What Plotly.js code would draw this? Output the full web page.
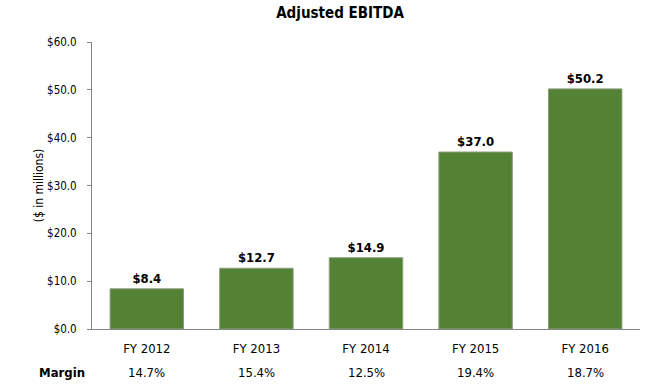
<!DOCTYPE html>
<html>
<head>
<meta charset="utf-8">
<script src="https://cdn.plot.ly/plotly-3.0.1.min.js"></script>
<style>html,body{margin:0;padding:0;background:#fff;}#chart{width:672px;height:386px;}</style>
</head>
<body>
<div id="chart"></div>
<script>
var categories = ["FY 2012", "FY 2013", "FY 2014", "FY 2015", "FY 2016"];
var ebitda = [8.4, 12.7, 14.9, 37.0, 50.2];
var valueLabels = ["$8.4", "$12.7", "$14.9", "$37.0", "$50.2"];
var margins = ["14.7%", "15.4%", "12.5%", "19.4%", "18.7%"];
var yTickVals = [0, 10, 20, 30, 40, 50, 60];
var yTickText = ["$0.0", "$10.0", "$20.0", "$30.0", "$40.0", "$50.0", "$60.0"];

var FONT = "'Liberation Sans Narrow', 'Arial Narrow', 'DejaVu Sans Condensed', 'Liberation Sans', Arial, sans-serif";

var trace = {
  type: "bar",
  x: categories,
  y: ebitda,
  text: valueLabels,
  textposition: "outside",
  cliponaxis: false,
  textfont: {family: FONT, size: 13, color: "#000", weight: "bold"},
  marker: {color: "#548235", line: {color: "#8c9c7f", width: 1}},
  hoverinfo: "none"
};

var annotations = margins.map(function (m, i) {
  return {
    x: categories[i], y: 0, xref: "x", yref: "paper", yanchor: "middle",
    yshift: -43, text: m, showarrow: false,
    font: {family: FONT, size: 13, color: "#000"}
  };
});
annotations.push({
  x: -0.01, y: 0, xref: "x domain", yref: "paper", xanchor: "right", yanchor: "middle",
  text: "<b>Margin</b>", showarrow: false, yshift: -43,
  font: {family: FONT, size: 13, color: "#000"}
});

var layout = {
  width: 672, height: 386,
  margin: {l: 92, r: 32, t: 42, b: 57},
  paper_bgcolor: "#fff", plot_bgcolor: "#fff",
  title: {text: "<b>Adjusted EBITDA</b>", x: 0.506, xanchor: "center", y: 0.967, yanchor: "middle",
          font: {family: FONT, size: 15, color: "#000"}},
  font: {family: FONT, size: 12, color: "#000"},
  bargap: 0.33,
  showlegend: false,
  xaxis: {
    showline: true, linecolor: "#868686", linewidth: 1,
    ticks: "", showgrid: false, zeroline: false,
    tickfont: {family: FONT, size: 13, color: "#000"},
    ticklabelstandoff: 7
  },
  yaxis: {
    range: [0, 60],
    tickvals: yTickVals, ticktext: yTickText,
    showline: true, linecolor: "#868686", linewidth: 1,
    ticks: "outside", ticklen: 4, tickcolor: "#868686",
    showgrid: false, zeroline: false,
    ticklabelstandoff: 8,
    tickfont: {family: FONT, size: 11.5, color: "#000"},
    title: {text: "($ in millions)", font: {family: FONT, size: 12, color: "#000"}, standoff: 0}
  },
  annotations: annotations
};

Plotly.newPlot("chart", [trace], layout, {staticPlot: true, displayModeBar: false});
</script>
</body>
</html>
